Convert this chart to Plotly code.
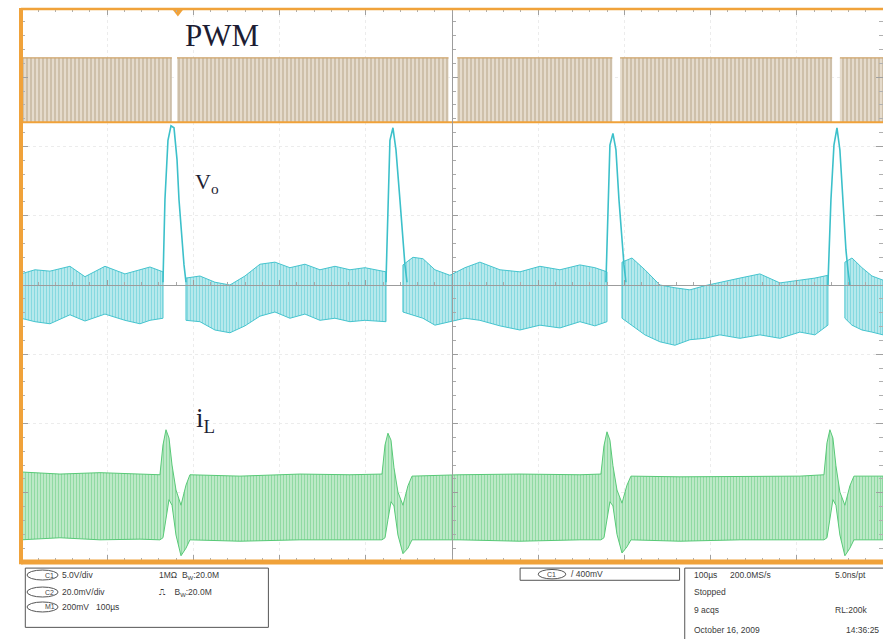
import plotly.graph_objects as go

# ---------------- data (time in µs, amplitude in screen divisions) ----------------
X_RANGE = [0, 1000]          # 100 µs/div, 10 divisions
Y_RANGE = [-4, 4]            # 8 vertical divisions

# PWM (channel 1) : high/low levels and the stretches where the pulse train is drawn
PWM_START = [0, 181, 506, 695, 950]
PWM_END = [175, 496, 686, 941, 1000]
PWM_HIGH = 3.28
PWM_LOW = 2.35

# Vo (channel 2) : ripple envelope between the spikes
VO_T = [
    [0, 16.2, 33.6, 56.8, 74.2, 97.4, 120.6, 138.0, 149.6, 164.7],
    [191.4, 207.6, 225.0, 242.4, 259.8, 277.2, 294.6, 312.0, 329.4, 346.8, 364.2, 381.6, 399.0, 423.4],
    [443.1, 454.7, 466.3, 480.2, 497.6, 515.0, 532.4, 555.6, 578.8, 602.0, 625.2, 648.4, 665.8, 679.8],
    [697.2, 708.8, 723.8, 741.2, 758.6, 776.0, 793.4, 810.8, 834.0, 857.2, 880.4, 903.6, 921.0, 936.1],
    [955.8, 964.0, 975.6, 987.2, 1000],
]
VO_HI = [
    [0.16, 0.22, 0.20, 0.27, 0.12, 0.27, 0.16, 0.22, 0.26, 0.19],
    [0.10, 0.13, 0.04, 0.00, 0.13, 0.30, 0.33, 0.25, 0.30, 0.22, 0.27, 0.22, 0.25, 0.19],
    [0.29, 0.40, 0.38, 0.22, 0.14, 0.25, 0.33, 0.22, 0.19, 0.27, 0.22, 0.29, 0.25, 0.19],
    [0.33, 0.39, 0.22, 0.00, -0.04, -0.07, -0.01, 0.04, 0.10, 0.16, 0.03, 0.07, 0.10, 0.14],
    [0.33, 0.39, 0.25, 0.13, 0.07],
]
VO_LO = [
    [-0.48, -0.53, -0.56, -0.43, -0.52, -0.42, -0.51, -0.56, -0.51, -0.48],
    [-0.51, -0.53, -0.65, -0.69, -0.59, -0.45, -0.39, -0.48, -0.42, -0.51, -0.48, -0.53, -0.51, -0.53],
    [-0.39, -0.43, -0.48, -0.58, -0.53, -0.48, -0.51, -0.59, -0.65, -0.58, -0.62, -0.53, -0.59, -0.53],
    [-0.48, -0.58, -0.72, -0.82, -0.87, -0.79, -0.77, -0.72, -0.77, -0.72, -0.77, -0.68, -0.72, -0.58],
    [-0.48, -0.58, -0.65, -0.68, -0.72],
]
# Vo spikes
VO_SPIKE_T = [
    [164.7, 167.0, 170.5, 174.0, 177.5, 181.0, 183.3, 186.8, 189.1, 191.4],
    [423.4, 425.7, 428.0, 431.5, 435.0, 439.6, 443.1, 445.4, 447.8],
    [678.6, 680.9, 683.2, 686.7, 690.2, 693.7, 697.2, 699.5, 701.8],
    [936.1, 939.6, 943.1, 946.6, 950.0, 953.5, 957.0, 959.3, 961.6],
]
VO_SPIKE_Y = [
    [0.04, 1.23, 2.09, 2.30, 2.27, 1.81, 1.23, 0.58, 0.29, 0.04],
    [0.04, 1.23, 2.09, 2.27, 1.95, 1.23, 0.65, 0.29, 0.04],
    [0.04, 1.23, 2.02, 2.19, 1.95, 1.23, 0.58, 0.29, 0.04],
    [0.00, 1.23, 2.02, 2.27, 1.95, 1.23, 0.51, 0.22, 0.00],
]

# iL (math M1) : ripple envelope including the spikes
IL_T = [0, 45.2, 91.6, 138.0,
        161.2, 164.7, 168.2, 171.7, 175.2, 179.8, 185.6, 191.4, 196.0,
        254.0, 323.6, 381.6,
        418.8, 422.3, 425.7, 429.2, 432.7, 437.3, 443.1, 448.9, 453.6,
        509.2, 578.8, 648.4,
        672.8, 676.3, 679.8, 683.2, 686.7, 691.4, 697.2, 703.0, 707.6,
        764.4, 834.0, 903.6,
        931.5, 935.0, 938.4, 941.9, 945.4, 950.0, 955.8, 961.6, 966.3,
        1000]
IL_HI = [-2.70, -2.73, -2.71, -2.73,
         -2.74, -2.31, -2.09, -2.21, -2.60, -2.96, -3.18, -2.89, -2.74,
         -2.76, -2.73, -2.74,
         -2.73, -2.31, -2.14, -2.24, -2.64, -2.99, -3.18, -2.90, -2.76,
         -2.74, -2.73, -2.74,
         -2.73, -2.32, -2.12, -2.24, -2.61, -2.96, -3.15, -2.89, -2.76,
         -2.77, -2.76, -2.76,
         -2.74, -2.28, -2.09, -2.21, -2.61, -2.99, -3.18, -2.90, -2.76,
         -2.76]
IL_LO = [-3.68, -3.65, -3.68, -3.67,
         -3.68, -3.65, -3.39, -3.10, -3.18, -3.61, -3.91, -3.80, -3.68,
         -3.70, -3.68, -3.68,
         -3.68, -3.65, -3.39, -3.13, -3.19, -3.61, -3.88, -3.80, -3.68,
         -3.68, -3.70, -3.68,
         -3.68, -3.65, -3.39, -3.13, -3.19, -3.60, -3.87, -3.78, -3.68,
         -3.70, -3.68, -3.68,
         -3.68, -3.65, -3.39, -3.10, -3.18, -3.61, -3.91, -3.80, -3.68,
         -3.68]

# channel ground markers and trigger position
CH_LABELS = ["1", "2", "M1"]
CH_LEVELS = [2.35, 0.03, -3.15]
TRIGGER_T = 182

# status bar texts
STATUS_LEFT = [["5.0V/div", "1MΩ  B<sub>W</sub>:20.0M"],
               ["20.0mV/div", "⎍    B<sub>W</sub>:20.0M"],
               ["200mV   100µs", ""]]
STATUS_LEFT_TAGS = ["C1", "C2", "M1"]
STATUS_TRIG = "/ 400mV"
STATUS_RIGHT = [["100µs", "200.0MS/s", "5.0ns/pt"],
                ["Stopped", "", ""],
                ["9 acqs", "", "RL:200k"],
                ["October 16, 2009", "", "14:36:25"]]

# ---------------- helpers ----------------
def polygons(ts, his, los):
    xs, ys = [], []
    for t, hi, lo in zip(ts, his, los):
        xs += list(t) + list(t[::-1]) + [t[0], None]
        ys += list(hi) + list(lo[::-1]) + [hi[0], None]
    return xs, ys


def joined(segs):
    out = []
    for s in segs:
        out += list(s) + [None]
    return out


ORANGE = "#f0a23a"
fig = go.Figure()

# PWM pulse train blocks
px, py = [], []
for s, e in zip(PWM_START, PWM_END):
    px += [s, e, e, s, s, None]
    py += [PWM_HIGH, PWM_HIGH, PWM_LOW, PWM_LOW, PWM_HIGH, None]
fig.add_trace(go.Scatter(x=px, y=py, mode="lines", fill="toself",
                         line=dict(width=0, color="#b8a283"),
                         fillcolor="rgba(0,0,0,0)",
                         fillpattern=dict(shape="|", fgcolor="#a58f6e", bgcolor="#f6f0e6",
                                          size=4, solidity=0.72),
                         hoverinfo="skip"))
# PWM top edge and ground line
tx, ty = [], []
for s, e in zip(PWM_START, PWM_END):
    tx += [s, e, None]
    ty += [PWM_HIGH, PWM_HIGH, None]
fig.add_trace(go.Scatter(x=tx, y=ty, mode="lines", line=dict(width=1.2, color="#cfa46a"),
                         hoverinfo="skip"))
fig.add_trace(go.Scatter(x=X_RANGE, y=[PWM_LOW, PWM_LOW], mode="lines",
                         line=dict(width=2, color=ORANGE), hoverinfo="skip"))

# Vo ripple band
vx, vy = polygons(VO_T, VO_HI, VO_LO)
fig.add_trace(go.Scatter(x=vx, y=vy, mode="lines", fill="toself",
                         line=dict(width=1, color="#45c4ce"),
                         fillcolor="rgba(0,0,0,0)",
                         fillpattern=dict(shape="|", fgcolor="#38c0cb", bgcolor="#d4f2f4",
                                          size=3, solidity=0.6),
                         hoverinfo="skip"))
fig.add_trace(go.Scatter(x=joined(VO_SPIKE_T), y=joined(VO_SPIKE_Y), mode="lines",
                         line=dict(width=1.6, color="#3cc0ca"), hoverinfo="skip"))

# iL ripple band
ix, iy = polygons([IL_T], [IL_HI], [IL_LO])
fig.add_trace(go.Scatter(x=ix, y=iy, mode="lines", fill="toself",
                         line=dict(width=1, color="#58c977"),
                         fillcolor="rgba(0,0,0,0)",
                         fillpattern=dict(shape="|", fgcolor="#48c268", bgcolor="#d8f3de",
                                          size=3, solidity=0.6),
                         hoverinfo="skip"))

# dummy traces so the centre-cross axes exist
fig.add_trace(go.Scatter(x=[None], y=[None], xaxis="x2", yaxis="y", hoverinfo="skip"))
fig.add_trace(go.Scatter(x=[None], y=[None], xaxis="x", yaxis="y2", hoverinfo="skip"))

# channel markers
fig.add_trace(go.Scatter(
    x=[-8, -6, -8], y=CH_LEVELS, mode="markers+text", text=CH_LABELS,
    textfont=dict(size=7, color="#1a1a1a", family="Liberation Sans"),
    marker=dict(size=15, color=[ORANGE, "#38c4d2", "#3cbf55"],
                line=dict(width=1.5, color=["#c8761a", "#1a7f8a", "#1f7a32"])),
    cliponaxis=False, hoverinfo="skip"))
fig.add_trace(go.Scatter(
    x=[TRIGGER_T], y=[Y_RANGE[1] - 0.05], mode="markers",
    marker=dict(symbol="triangle-down", size=10, color=ORANGE),
    cliponaxis=False, hoverinfo="skip"))

# ---------------- layout ----------------
axis_common = dict(showticklabels=False, zeroline=False, showline=False)
fig.update_layout(
    width=883, height=639,
    margin=dict(l=21, r=0, t=8, b=77),
    paper_bgcolor="white", plot_bgcolor="white",
    showlegend=False,
    xaxis=dict(range=X_RANGE, dtick=100, showgrid=True, gridcolor="#ececec", griddash="dot",
               ticks="inside", ticklen=7, tickcolor="#a0a0a0", mirror="ticks",
               minor=dict(dtick=20, ticks="inside", ticklen=4, tickcolor="#b0b0b0", showgrid=False),
               **axis_common),
    yaxis=dict(range=Y_RANGE, dtick=1, showgrid=True, gridcolor="#ececec", griddash="dot",
               ticks="inside", ticklen=7, tickcolor="#a0a0a0", mirror="ticks",
               minor=dict(dtick=0.2, ticks="inside", ticklen=4, tickcolor="#b0b0b0", showgrid=False),
               **axis_common),
    xaxis2=dict(range=X_RANGE, overlaying="x", anchor="free", position=0.5,
                showline=True, linecolor="#9c9c9c", linewidth=1, showgrid=False,
                showticklabels=False, zeroline=False, dtick=100,
                ticks="inside", ticklen=5, tickcolor="#9c9c9c",
                minor=dict(dtick=20, ticks="inside", ticklen=3, tickcolor="#aaaaaa")),
    yaxis2=dict(range=Y_RANGE, overlaying="y", anchor="free", position=0.5,
                showline=True, linecolor="#9c9c9c", linewidth=1, showgrid=False,
                showticklabels=False, zeroline=False, dtick=1,
                ticks="inside", ticklen=5, tickcolor="#9c9c9c",
                minor=dict(dtick=0.2, ticks="inside", ticklen=3, tickcolor="#aaaaaa")),
)

# orange frame
shapes = [
    dict(type="line", xref="paper", yref="paper", x0=0, x1=1, y0=0, y1=0,
         line=dict(color=ORANGE, width=5)),
    dict(type="line", xref="paper", yref="paper", x0=0, x1=0, y0=-0.004, y1=1,
         line=dict(color=ORANGE, width=4)),
    dict(type="line", xref="paper", yref="paper", x0=0, x1=1, y0=0.998, y1=0.998,
         line=dict(color=ORANGE, width=2.5)),
]

# status bar boxes (paper coordinates, below the plot)
BOX = dict(color="#555555", width=1)
shapes += [
    dict(type="rect", xref="paper", yref="paper", x0=0.005, x1=0.287, y0=-0.011, y1=-0.118, line=BOX),
    dict(type="rect", xref="paper", yref="paper", x0=0.579, x1=0.764, y0=-0.011, y1=-0.033, line=BOX),
    dict(type="rect", xref="paper", yref="paper", x0=0.770, x1=1.02, y0=-0.011, y1=-0.2, line=BOX),
]
row_y = [-0.0235, -0.0542, -0.0812]
annotations = []
SFONT = dict(size=8.5, color="#3a3a3a", family="Liberation Sans")
TAGFONT = dict(size=7, color="#444444", family="Liberation Sans")
for i, (tag, (a, b)) in enumerate(zip(STATUS_LEFT_TAGS, STATUS_LEFT)):
    shapes.append(dict(type="circle", xref="paper", yref="paper", x0=0.007, x1=0.043,
                       y0=row_y[i] + 0.009, y1=row_y[i] - 0.009, line=dict(color="#555", width=1)))
    annotations.append(dict(x=0.025, y=row_y[i], xref="paper", yref="paper", text=tag,
                            showarrow=False, yanchor="middle", font=TAGFONT))
    annotations.append(dict(x=0.045, y=row_y[i], xref="paper", yref="paper", text=a,
                            showarrow=False, xanchor="left", yanchor="middle", font=SFONT))
    if b:
        annotations.append(dict(x=0.158, y=row_y[i], xref="paper", yref="paper", text=b,
                                showarrow=False, xanchor="left", yanchor="middle", font=SFONT))
# trigger box
shapes.append(dict(type="circle", xref="paper", yref="paper", x0=0.600, x1=0.632,
                   y0=-0.0135, y1=-0.0305, line=dict(color="#555", width=1)))
annotations.append(dict(x=0.616, y=-0.022, xref="paper", yref="paper", text="C1",
                        showarrow=False, yanchor="middle", font=TAGFONT))
annotations.append(dict(x=0.636, y=-0.022, xref="paper", yref="paper", text=STATUS_TRIG,
                        showarrow=False, xanchor="left", yanchor="middle", font=SFONT))
# acquisition box
rrow_y = [-0.0235, -0.0542, -0.0866, -0.1227]
col_x = [0.778, 0.820, 0.942]
for r, row in enumerate(STATUS_RIGHT):
    for c, txt in enumerate(row):
        if txt:
            xx = col_x[c]
            if r == 3 and c == 2:
                xx = 0.955
            annotations.append(dict(x=xx, y=rrow_y[r], xref="paper", yref="paper", text=txt,
                                    showarrow=False, xanchor="left", yanchor="middle", font=SFONT))

# trace labels
annotations += [
    dict(x=233, y=3.6, xref="x", yref="y", text="PWM", showarrow=False,
         font=dict(size=31, color="#1d1d33", family="Liberation Serif")),
    dict(x=216, y=1.47, xref="x", yref="y", text="V<sub>o</sub>", showarrow=False,
         font=dict(size=22, color="#1d1d33", family="Liberation Serif")),
    dict(x=214, y=-1.95, xref="x", yref="y", text="i<sub>L</sub>", showarrow=False,
         font=dict(size=27, color="#1d1d33", family="Liberation Serif")),
]

fig.update_layout(shapes=shapes, annotations=annotations)
fig.write_html("out.html")
